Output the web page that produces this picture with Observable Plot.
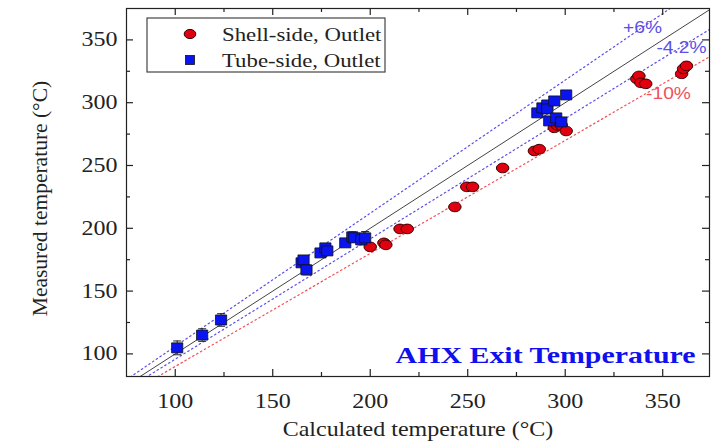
<!DOCTYPE html>
<html>
<head>
<meta charset="utf-8">
<script src="https://cdn.jsdelivr.net/npm/d3@7"></script>
<script src="https://cdn.jsdelivr.net/npm/@observablehq/plot@0.6"></script>
<style>
  html, body { margin: 0; padding: 0; background: #fff; }
  #chart svg { display: block; }
</style>
</head>
<body>
<div id="chart"></div>
<script>
// ---- Data ----
const shellCalc = [200, 207, 208, 215.3, 219, 243.4, 249.5, 252.5, 267.9, 284.2, 286.7, 294.4, 296, 298, 300.5, 336.7, 337.8, 338.8, 341.3, 359.7, 360.7, 362.2];
const shellMeas = [185.2, 188.4, 186.8, 199.5, 199.5, 217, 233, 233, 248, 261.6, 263, 280, 282, 282, 277.5, 319, 321.3, 315.8, 315, 323, 327, 329.3];

const tubeCalc = [101, 113.8, 123.5, 164.8, 165.8, 167.3, 174.5, 177, 178, 187.2, 190.8, 191.8, 195.4, 197.4, 285.7, 288.3, 290.8, 290.8, 294.4, 300.5, 291.8, 295.4, 298];
const tubeMeas = [104.8, 115, 127, 172.5, 174.8, 166.9, 180.4, 184.4, 182, 188.4, 193.2, 192.4, 190.8, 192.4, 291.9, 295.9, 298.2, 295, 301.4, 306.2, 285.5, 287.9, 284.7];
const tubeErr  = [5.5, 5, 5, 3, 3, 4, 3, 3, 3, 3, 4, 3, 4, 5, 3, 3, 3, 3, 3, 3, 3, 3, 3];

const refFactors = [1.06, 0.958, 0.9];
const refLabels = ["+6%", "-4.2%", "-10%"];

const xMajor = [100, 150, 200, 250, 300, 350];
const xMinor = [125, 175, 225, 275, 325];
const yMajor = [100, 150, 200, 250, 300, 350];
const yMinor = [125, 175, 225, 275, 325];
const xDomain = [75, 374];
const yDomain = [82, 375];

const seriesNames = ["Shell-side, Outlet", "Tube-side, Outlet"];
const title = "AHX Exit Temperature";

// ---- Build tables ----
const shell = shellCalc.map((x, i) => ({x, y: shellMeas[i]}));
const tube = tubeCalc.map((x, i) => ({x, y: tubeMeas[i], e: tubeErr[i]}));
const refLinesData = refFactors.flatMap((k, i) => xDomain.map(x => ({x, y: k * x, k, label: refLabels[i]})));
const identity = xDomain.map(x => ({x, y: x}));

const W = 721, H = 446;
const mL = 126, mR = 12, mT = 8, mB = 70;
const fw = W - mL - mR, fh = H - mT - mB;
const BLUE = "#5a4fe8", RED = "#f0505a";
const SANS = "Arial, 'Liberation Sans', sans-serif";

const capSymbol = { draw(ctx) { const w = 4; ctx.moveTo(-w, 0); ctx.lineTo(w, 0); } };
const ellipseSymbol = { draw(ctx) {
  const rx = 6.2, ry = 4.8, k = 0.5523;
  ctx.moveTo(rx, 0);
  ctx.bezierCurveTo(rx, k * ry, k * rx, ry, 0, ry);
  ctx.bezierCurveTo(-k * rx, ry, -rx, k * ry, -rx, 0);
  ctx.bezierCurveTo(-rx, -k * ry, -k * rx, -ry, 0, -ry);
  ctx.bezierCurveTo(k * rx, -ry, rx, -k * ry, rx, 0);
  ctx.closePath();
} };
const rectSymbol = { draw(ctx) {
  const w = 5.6, h = 5;
  ctx.moveTo(-w, -h); ctx.lineTo(w, -h); ctx.lineTo(w, h); ctx.lineTo(-w, h); ctx.closePath();
} };

const plot = Plot.plot({
  width: W, height: H,
  marginLeft: mL, marginRight: mR, marginTop: mT, marginBottom: mB,
  x: {domain: xDomain},
  y: {domain: yDomain},
  style: {fontFamily: "'Liberation Serif', serif", fontSize: "20px", color: "#222", background: "#fff"},
  marks: [
    // reference lines
    Plot.line(identity, {x: "x", y: "y", stroke: "#444", strokeWidth: 1, clip: true}),
    Plot.line(refLinesData.filter(d => d.k !== 0.9), {x: "x", y: "y", z: "k", stroke: BLUE, strokeWidth: 1.2, strokeDasharray: "1.5,3", clip: true}),
    Plot.line(refLinesData.filter(d => d.k === 0.9), {x: "x", y: "y", z: "k", stroke: RED, strokeWidth: 1.2, strokeDasharray: "1.5,3", clip: true}),
    // error bars
    Plot.ruleX(tube, {x: "x", y1: d => d.y - d.e, y2: d => d.y + d.e, stroke: "#222", strokeWidth: 1}),
    Plot.dot(tube, {x: "x", y: d => d.y - d.e, symbol: capSymbol, stroke: "#222", strokeWidth: 1}),
    Plot.dot(tube, {x: "x", y: d => d.y + d.e, symbol: capSymbol, stroke: "#222", strokeWidth: 1}),
    // points
    Plot.dot(shell, {x: "x", y: "y", symbol: ellipseSymbol, fill: "#e00010", stroke: "#300", strokeWidth: 1}),
    Plot.dot(tube, {x: "x", y: "y", symbol: rectSymbol, fill: "#0a14f0", stroke: "#111", strokeWidth: 0.8}),
    // frame
    Plot.frame({stroke: "#222", strokeWidth: 1.2}),
    // inward ticks
    Plot.tickX(xMajor, {x: d => d, insetTop: fh - 7, stroke: "#222", strokeWidth: 1.2}),
    Plot.tickX(xMinor, {x: d => d, insetTop: fh - 4, stroke: "#222", strokeWidth: 1.2}),
    Plot.tickX(xMajor, {x: d => d, insetBottom: fh - 7, stroke: "#222", strokeWidth: 1.2}),
    Plot.tickX(xMinor, {x: d => d, insetBottom: fh - 4, stroke: "#222", strokeWidth: 1.2}),
    Plot.tickY(yMajor, {y: d => d, insetRight: fw - 7, stroke: "#222", strokeWidth: 1.2}),
    Plot.tickY(yMinor, {y: d => d, insetRight: fw - 4, stroke: "#222", strokeWidth: 1.2}),
    Plot.tickY(yMajor, {y: d => d, insetLeft: fw - 7, stroke: "#222", strokeWidth: 1.2}),
    Plot.tickY(yMinor, {y: d => d, insetLeft: fw - 4, stroke: "#222", strokeWidth: 1.2}),
    // axes (labels only)
    Plot.axisX({ticks: xMajor, tickSize: 0, tickPadding: 17, fontSize: 20, fill: "#222",
      label: "Calculated temperature (°C)", labelAnchor: "center", labelArrow: "none", labelOffset: 59}),
    Plot.axisY({ticks: yMajor, tickSize: 0, tickPadding: 9, fontSize: 20, fill: "#222",
      label: "Measured temperature (°C)", labelAnchor: "center", labelArrow: "none", labelOffset: 95}),
    // line labels
    Plot.text([refLabels[0]], {text: d => d, frameAnchor: "top-right", textAnchor: "middle", lineAnchor: "middle", dx: -67, dy: 19, fill: BLUE, fontFamily: SANS, fontSize: 16}),
    Plot.text([refLabels[1]], {text: d => d, frameAnchor: "top-right", textAnchor: "middle", lineAnchor: "middle", dx: -28, dy: 39, fill: BLUE, fontFamily: SANS, fontSize: 16}),
    Plot.text([refLabels[2]], {text: d => d, frameAnchor: "top-right", textAnchor: "middle", lineAnchor: "middle", dx: -41, dy: 85, fill: RED, fontFamily: SANS, fontSize: 16}),
    // title annotation
    Plot.text([title], {text: d => d, frameAnchor: "bottom-right", textAnchor: "end", lineAnchor: "middle", dx: -14, dy: -21, fill: "#1010ee", fontWeight: "bold", fontSize: 23})
  ]
});

// legend box inside plot
const svg = d3.select(plot);
const lg = svg.append("g").attr("font-family", "'Liberation Serif', serif").attr("font-size", 19).attr("fill", "#222").attr("text-anchor", "start");
lg.append("rect").attr("x", 147).attr("y", 18).attr("width", 238).attr("height", 54).attr("fill", "#fff").attr("stroke", "#444").attr("stroke-width", 1.2);
lg.append("ellipse").attr("cx", 190).attr("cy", 34).attr("rx", 5.8).attr("ry", 4.6).attr("fill", "#e00010").attr("stroke", "#300");
lg.append("rect").attr("x", 185.5).attr("y", 55.5).attr("width", 9).attr("height", 9).attr("fill", "#0a14f0").attr("stroke", "#111").attr("stroke-width", 0.8);
lg.append("text").attr("transform", "translate(222,34)").attr("dy", "0.35em").text(seriesNames[0]);
lg.append("text").attr("transform", "translate(222,60)").attr("dy", "0.35em").text(seriesNames[1]);

// reproduce the horizontally stretched lettering of the reference
svg.selectAll("text").each(function() {
  const t = this.getAttribute("transform") || "";
  if (t.includes("rotate")) { this.setAttribute("font-size", 21.5); this.setAttribute("transform", t + " translate(-6,0)"); return; }
  const s = this.textContent === title ? 1.3 : 1.2;
  this.setAttribute("transform", t + ` scale(${s},1)`);
});

document.getElementById("chart").appendChild(plot);
</script>
</body>
</html>
